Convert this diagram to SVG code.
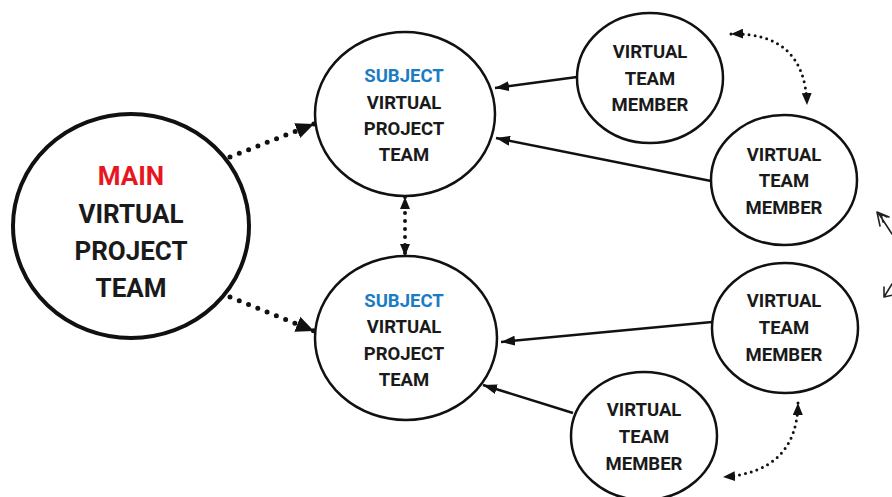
<svg xmlns="http://www.w3.org/2000/svg" width="892" height="497" viewBox="0 0 892 497">
<style>
.node{fill:#fff;stroke:#111;stroke-width:2.5}
.main{stroke-width:4}
text{font-family:Roboto,"Liberation Sans",sans-serif;font-weight:700;fill:#1a1a1a;text-anchor:middle}
.big{font-size:26px}
.sm{font-size:18.5px}
.red{fill:#e8161e}
.blue{fill:#1b7cc4}
.solid{stroke:#111;stroke-width:2.5;fill:none}
.dot{stroke:#111;stroke-width:5;fill:none;stroke-linecap:round;stroke-dasharray:0 10}
.dot2{stroke:#111;stroke-width:3;fill:none;stroke-linecap:round;stroke-dasharray:0 6}
</style>
<defs>
<marker id="ah" viewBox="0 0 14 10" refX="14" refY="5" markerWidth="14" markerHeight="10" markerUnits="userSpaceOnUse" orient="auto-start-reverse"><path d="M0,0 L14,5 L0,10 Z" fill="#111"/></marker>
<marker id="ahb" viewBox="0 0 18 16" refX="18" refY="8" markerWidth="18" markerHeight="16" markerUnits="userSpaceOnUse" orient="auto-start-reverse"><path d="M0,0 L18,8 L0,16 Z" fill="#111"/></marker>
<marker id="ahs" viewBox="0 0 12 10" refX="12" refY="5" markerWidth="12" markerHeight="10" markerUnits="userSpaceOnUse" orient="auto-start-reverse"><path d="M0,0 L12,5 L0,10 Z" fill="#111"/></marker>
</defs>
<rect width="892" height="497" fill="#fff"/>
<g id="connectors">
<path class="dot" d="M230,157 L314,124" marker-end="url(#ahb)"/>
<path class="dot" d="M230,297 L314,331" marker-end="url(#ahb)"/>
<path class="dot2" style="stroke-width:4;stroke-dasharray:0 8" d="M405,197 L405,256" marker-start="url(#ahs)" marker-end="url(#ahs)"/>
<path class="solid" d="M577,77 L495,88" marker-end="url(#ah)"/>
<path class="solid" d="M711,181 L496,138" marker-end="url(#ah)"/>
<path class="solid" d="M712,322 L501,342" marker-end="url(#ah)"/>
<path class="solid" d="M573,413 L483,385" marker-end="url(#ah)"/>
<path class="dot2" d="M731,34 Q805,32 807,105" marker-start="url(#ahs)" marker-end="url(#ahs)"/>
<path class="dot2" d="M798,403 Q797,472 723,477" marker-start="url(#ahs)" marker-end="url(#ahs)"/>
<path d="M892,234 L879,214 M877,212 L880,226 M877,212 L889,217 M881,214 L883,222 M881,214 L887,217" stroke="#222" stroke-width="1.6" fill="none" stroke-linecap="round"/>
<path d="M892,284 L884,297 M884,297 L884,287 M884,297 L893,295" stroke="#222" stroke-width="1.6" fill="none" stroke-linecap="round"/>
</g>
<g id="main">
<ellipse class="node main" cx="131" cy="226" rx="118" ry="112"/>
<text class="big red" x="131" y="185">MAIN</text>
<text class="big" x="131" y="223">VIRTUAL</text>
<text class="big" x="131" y="260">PROJECT</text>
<text class="big" x="131" y="297">TEAM</text>
</g>
<g id="subject1">
<ellipse class="node" cx="405" cy="114" rx="90" ry="82"/>
<text class="sm blue" x="404" y="82">SUBJECT</text>
<text class="sm" x="404" y="109">VIRTUAL</text>
<text class="sm" x="404" y="135">PROJECT</text>
<text class="sm" x="404" y="161">TEAM</text>
</g>
<g id="subject2">
<ellipse class="node" cx="406" cy="338" rx="91" ry="82"/>
<text class="sm blue" x="404" y="307">SUBJECT</text>
<text class="sm" x="404" y="333">VIRTUAL</text>
<text class="sm" x="404" y="360">PROJECT</text>
<text class="sm" x="404" y="386">TEAM</text>
</g>
<g id="member1">
<ellipse class="node" cx="650" cy="78" rx="73" ry="65"/>
<text class="sm" x="650" y="58">VIRTUAL</text>
<text class="sm" x="650" y="85">TEAM</text>
<text class="sm" x="650" y="111">MEMBER</text>
</g>
<g id="member2">
<ellipse class="node" cx="784" cy="180" rx="73" ry="65"/>
<text class="sm" x="784" y="161">VIRTUAL</text>
<text class="sm" x="784" y="187">TEAM</text>
<text class="sm" x="784" y="214">MEMBER</text>
</g>
<g id="member3">
<ellipse class="node" cx="785" cy="328" rx="73" ry="65"/>
<text class="sm" x="784" y="307">VIRTUAL</text>
<text class="sm" x="784" y="334">TEAM</text>
<text class="sm" x="784" y="361">MEMBER</text>
</g>
<g id="member4">
<ellipse class="node" cx="644" cy="436" rx="73" ry="64"/>
<text class="sm" x="644" y="416">VIRTUAL</text>
<text class="sm" x="644" y="443">TEAM</text>
<text class="sm" x="644" y="470">MEMBER</text>
</g>
</svg>
